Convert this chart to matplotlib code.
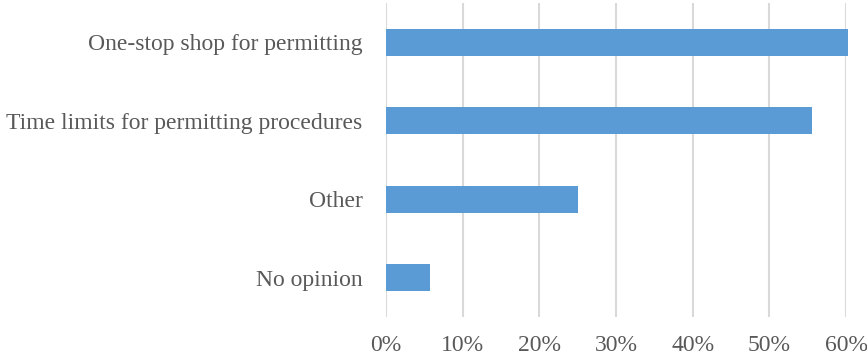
import matplotlib.pyplot as plt
from matplotlib.ticker import PercentFormatter

categories = ['One-stop shop for permitting', 'Time limits for permitting procedures', 'Other', 'No opinion']
shares = [0.603, 0.556, 0.250, 0.057]
x_ticks = [0.0, 0.1, 0.2, 0.3, 0.4, 0.5, 0.6]

plt.rcParams['font.family'] = ['Liberation Serif', 'DejaVu Serif']

fig = plt.figure(figsize=(8.67, 3.60), dpi=100)
ax = fig.add_axes([386 / 867, 1 - 317 / 360, 460 / 867, 314 / 360])

ypos = list(range(len(categories)))
bars = ax.barh(ypos, shares, height=0.35, color='#5b9bd5', zorder=3)
for b in bars:
    b.set_clip_on(False)

ax.set_ylim(len(categories) - 0.5, -0.5)
ax.set_xlim(0, 0.6)
ax.set_xticks(x_ticks)
ax.xaxis.set_major_formatter(PercentFormatter(1.0, decimals=0))
ax.set_yticks(ypos)
ax.set_yticklabels(categories)

ax.grid(axis='x', color='#d9d9d9', linewidth=1.5, zorder=0)
ax.set_axisbelow(True)
for s in ax.spines.values():
    s.set_visible(False)
ax.tick_params(axis='both', length=0, labelsize=17, labelcolor='#595959')
ax.tick_params(axis='x', pad=13)
ax.tick_params(axis='y', pad=17)

fig.savefig('out.png', dpi=100)
